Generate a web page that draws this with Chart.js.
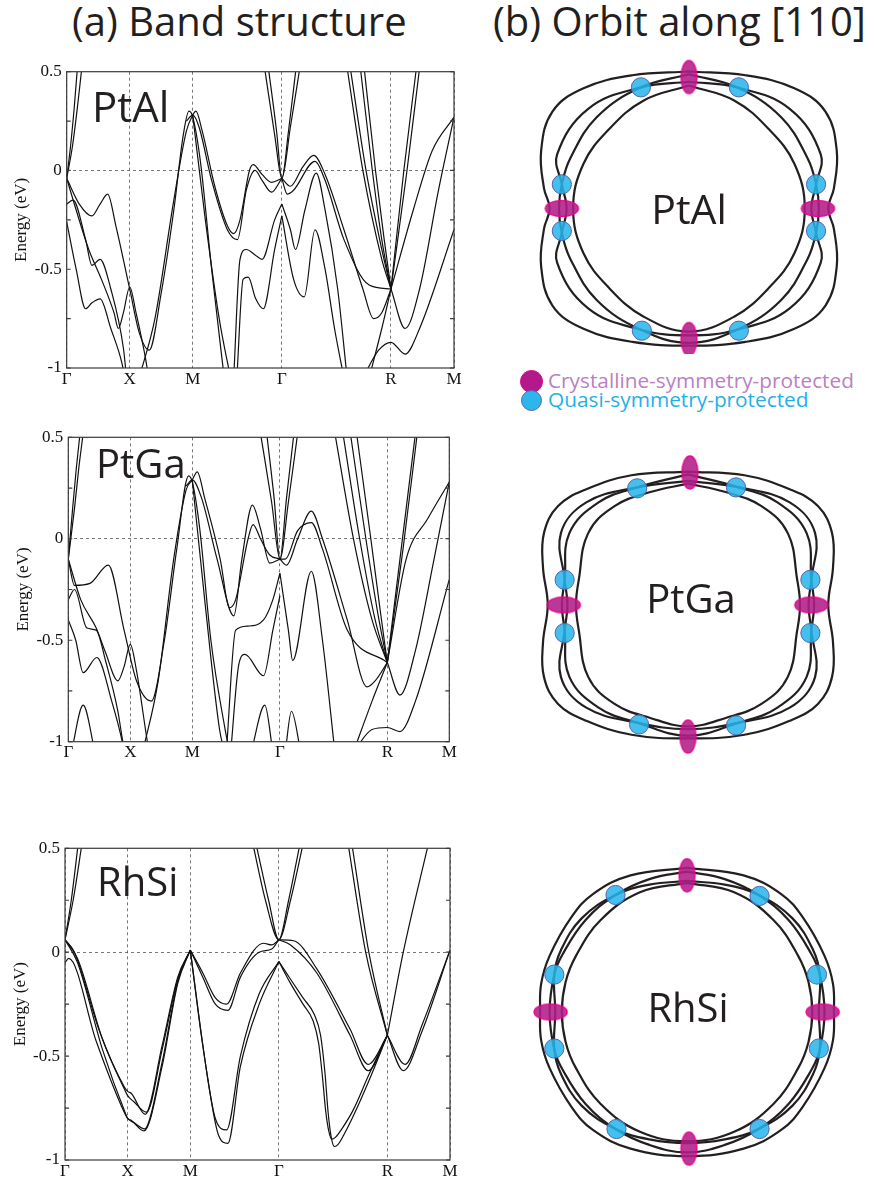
<!DOCTYPE html>
<html>
<head>
<meta charset="utf-8">
<script src="https://cdn.jsdelivr.net/npm/chart.js@4.4.1/dist/chart.umd.min.js"></script>
<style>
  html,body{margin:0;padding:0;background:#fff;}
  body{width:876px;height:1184px;position:relative;overflow:hidden;font-family:'Open Sans',sans-serif;color:#231f20;}
  canvas{position:absolute;}
  .t{position:absolute;white-space:nowrap;line-height:1;}
  .title{font-size:40px;}
  .lbl{font-size:42px;}
  .olbl{font-size:41px;text-align:center;width:200px;}
  .leg{font-size:20.8px;}
  .dot{position:absolute;border-radius:50%;box-sizing:border-box;}
</style>
</head>
<body>
<div class="t title" style="left:72px;top:1px;">(a) Band structure</div>
<div class="t title" style="left:493px;top:1px;">(b) Orbit along [110]</div>

<canvas id="bandPtAl" width="470" height="340" style="left:0;top:50px;"></canvas>
<canvas id="bandPtGa" width="470" height="345" style="left:0;top:420px;"></canvas>
<canvas id="bandRhSi" width="470" height="354" style="left:0;top:830px;"></canvas>

<canvas id="orbPtAl" width="376" height="325" style="left:500px;top:40px;"></canvas>
<canvas id="orbPtGa" width="376" height="330" style="left:500px;top:440px;"></canvas>
<canvas id="orbRhSi" width="376" height="344" style="left:500px;top:840px;"></canvas>

<div class="t lbl" style="left:92px;top:85px;">PtAl</div>
<div class="t lbl" style="left:96px;top:443px;font-size:40px;">PtGa</div>
<div class="t lbl" style="left:97px;top:861px;font-size:40px;">RhSi</div>

<div class="t olbl" style="left:589px;top:188px;">PtAl</div>
<div class="t olbl" style="left:591px;top:578px;font-size:40px;">PtGa</div>
<div class="t olbl" style="left:588px;top:987px;font-size:40px;">RhSi</div>

<div class="dot" style="left:520px;top:370px;width:23px;height:23px;background:#b4198c;border:1.5px solid #e6007e;"></div>
<div class="dot" style="left:521px;top:389.5px;width:21px;height:21px;background:#2db6ec;border:1.2px solid #5567b0;"></div>
<div class="t leg" style="left:548px;top:370px;color:#bb80c1;">Crystalline-symmetry-protected</div>
<div class="t leg" style="left:548px;top:389px;color:#1fb0e8;">Quasi-symmetry-protected</div>

<script>
// ---------------- k-path and energy axis ----------------
const kTicks  = [0, 1, 2, 3.414, 5.146, 6.146];
const kLabels = ['Γ', 'X', 'M', 'Γ', 'R', 'M'];
const eTicks  = [-1, -0.75, -0.5, -0.25, 0, 0.25, 0.5];
const eLabels = [-1, -0.5, 0, 0.5];

// ---------------- PtAl bands: [k, E(eV)] ----------------
const ptalBands = [
  [[0,-0.04],[0.06,0.12],[0.12,0.32],[0.17,0.52]],
  [[0,-0.04],[0.09,0.12],[0.17,0.32],[0.24,0.52]],
  [[0,-0.04],[0.2,-0.17],[0.40,-0.23],[0.53,-0.17],[0.65,-0.12],[0.78,-0.28],[1.0,-0.6],[1.15,-0.82],[1.31,-0.91],[1.5,-0.62],[1.7,-0.2],[1.85,0.18],[1.94,0.30],[2.0,0.27],[2.12,0.05],[2.3,-0.5],[2.5,-1.05]],
  [[0,-0.04],[0.15,-0.2],[0.35,-0.4],[0.55,-0.55],[0.75,-0.72],[0.82,-0.80],[0.9,-0.72],[1.0,-0.59],[1.1,-0.72],[1.25,-0.95],[1.3,-1.05]],
  [[0,-0.17],[0.1,-0.15],[0.3,-0.35],[0.4,-0.48],[0.53,-0.45],[0.7,-0.6],[0.9,-0.9],[0.95,-1.05]],
  [[0,-0.26],[0.15,-0.5],[0.3,-0.70],[0.4,-0.67],[0.53,-0.65],[0.7,-0.8],[0.88,-0.98],[0.92,-1.05]],
  [[1.15,-1.05],[1.4,-0.75],[1.7,-0.15],[1.9,0.2],[2.0,0.28],[2.05,0.30],[2.15,0.2],[2.35,-0.08],[2.55,-0.28],[2.65,-0.32],[2.75,-0.25],[2.9,0.0],[2.96,0.03],[3.1,-0.02],[3.25,-0.06],[3.414,-0.04]],
  [[1.9,0.25],[2.0,0.28],[2.1,0.22],[2.3,-0.05],[2.55,-0.3],[2.71,-0.35],[2.85,-0.1],[2.99,0.0],[3.1,-0.05],[3.25,-0.11],[3.414,-0.04]],
  [[2.0,0.28],[2.2,-0.25],[2.42,-0.75],[2.6,-1.05]],
  [[2.65,-1.05],[2.75,-0.45],[2.85,-0.40],[3.0,-0.43],[3.1,-0.45],[3.3,-0.25],[3.414,-0.17]],
  [[2.7,-1.05],[2.8,-0.55],[2.88,-0.54],[3.0,-0.65],[3.12,-0.70],[3.3,-0.4],[3.414,-0.23]],
  [[3.14,0.52],[3.30,0.18],[3.414,-0.04],[3.55,0.22],[3.70,0.52]],
  [[3.2,0.52],[3.33,0.2],[3.414,-0.04],[3.52,0.2],[3.64,0.52]],
  [[3.414,-0.04],[3.55,-0.08],[3.75,0.02],[3.92,0.076],[4.1,-0.02],[4.4,-0.3],[4.7,-0.6],[4.87,-0.75],[5.0,-0.72],[5.146,-0.6]],
  [[3.414,-0.04],[3.5,-0.12],[3.6,-0.1],[3.94,0.046],[4.1,-0.05],[4.4,-0.35],[4.8,-0.58],[5.146,-0.6]],
  [[3.414,-0.17],[3.55,-0.3],[3.63,-0.40],[3.78,-0.2],[3.96,-0.013],[4.1,-0.2],[4.3,-0.6],[4.45,-1.05]],
  [[3.414,-0.23],[3.6,-0.55],[3.77,-0.64],[3.94,-0.30],[4.1,-0.5],[4.25,-0.8],[4.4,-1.05]],
  [[4.45,0.52],[4.7,0.0],[5.0,-0.45],[5.146,-0.6]],
  [[4.5,0.52],[4.75,0.0],[5.0,-0.4],[5.146,-0.6]],
  [[4.66,0.52],[4.85,0.0],[5.0,-0.35],[5.146,-0.6]],
  [[4.72,0.52],[4.9,0.0],[5.03,-0.33],[5.146,-0.6]],
  [[5.146,-0.6],[5.35,0.0],[5.55,0.52]],
  [[5.146,-0.6],[5.4,0.0],[5.6,0.52]],
  [[5.146,-0.6],[5.5,-0.2],[5.8,0.1],[6.146,0.27]],
  [[5.146,-0.6],[5.37,-0.80],[5.6,-0.6],[5.9,-0.1],[6.146,0.27]],
  [[4.7,-1.05],[4.95,-0.91],[5.146,-0.87],[5.37,-0.93],[5.6,-0.8],[6.146,-0.3]],
  [[4.8,-1.05],[5.0,-0.8],[5.146,-0.6]]
];

// ---------------- PtGa bands ----------------
const ptgaBands = [
  [[0,-0.1],[0.07,0.15],[0.13,0.35],[0.19,0.52]],
  [[0,-0.1],[0.1,0.15],[0.17,0.35],[0.24,0.52]],
  [[0,-0.1],[0.1,-0.23],[0.35,-0.22],[0.645,-0.13],[0.9,-0.45],[1.1,-0.7],[1.34,-0.80],[1.55,-0.5],[1.75,-0.05],[1.94,0.31],[2.0,0.28],[2.12,0.05],[2.3,-0.5],[2.53,-0.94],[2.6,-1.05]],
  [[0,-0.1],[0.2,-0.3],[0.45,-0.44],[0.6,-0.56],[0.8,-0.70],[0.9,-0.63],[1.0,-0.52],[1.1,-0.65],[1.25,-0.95],[1.3,-1.05]],
  [[0,-0.3],[0.1,-0.25],[0.3,-0.44],[0.45,-0.45],[0.6,-0.6],[0.8,-0.85],[0.88,-1.0],[0.92,-1.05]],
  [[0,-0.4],[0.12,-0.5],[0.24,-0.66],[0.46,-0.585],[0.7,-0.8],[0.87,-1.0],[0.9,-1.05]],
  [[0.05,-1.05],[0.24,-0.82],[0.43,-1.05]],
  [[1.2,-1.05],[1.45,-0.7],[1.7,-0.1],[1.9,0.24],[2.0,0.29],[2.08,0.33],[2.2,0.2],[2.45,-0.1],[2.6,-0.34],[2.7,-0.3],[2.9,0.0],[2.98,0.07],[3.1,0.0],[3.25,-0.08],[3.414,-0.1]],
  [[1.9,0.26],[2.0,0.29],[2.15,0.2],[2.4,-0.1],[2.67,-0.38],[2.8,-0.1],[2.97,0.166],[3.1,0.05],[3.25,-0.12],[3.414,-0.1]],
  [[2.0,0.29],[2.2,-0.3],[2.44,-0.94],[2.52,-1.05]],
  [[2.55,-1.05],[2.7,-0.45],[2.9,-0.43],[3.15,-0.4],[3.3,-0.3],[3.414,-0.17]],
  [[2.62,-1.05],[2.75,-0.62],[2.85,-0.57],[3.15,-0.675],[3.3,-0.45],[3.414,-0.28]],
  [[2.95,-1.05],[3.17,-0.82],[3.3,-1.05]],
  [[3.5,-1.05],[3.6,-0.85],[3.75,-1.05]],
  [[3.1,0.52],[3.28,0.18],[3.414,-0.1],[3.55,0.18],[3.7,0.52]],
  [[3.2,0.52],[3.32,0.2],[3.414,-0.1],[3.52,0.2],[3.64,0.52]],
  [[3.414,-0.1],[3.52,-0.13],[3.7,0.0],[3.92,0.136],[4.1,0.0],[4.5,-0.4],[4.82,-0.73],[4.95,-0.7],[5.146,-0.61]],
  [[3.414,-0.1],[3.5,-0.1],[3.7,0.04],[3.92,0.08],[4.1,-0.05],[4.5,-0.45],[5.146,-0.61]],
  [[3.414,-0.17],[3.55,-0.45],[3.62,-0.6],[3.92,-0.16],[4.1,-0.5],[4.3,-1.05]],
  [[4.3,0.52],[4.6,0.0],[4.9,-0.4],[5.146,-0.61]],
  [[4.43,0.52],[4.7,0.0],[4.95,-0.4],[5.146,-0.61]],
  [[4.55,0.52],[4.8,0.0],[5.0,-0.38],[5.146,-0.61]],
  [[4.65,0.52],[4.88,0.0],[5.03,-0.35],[5.146,-0.61]],
  [[5.146,-0.61],[5.35,-0.1],[5.6,0.52]],
  [[5.146,-0.61],[5.4,-0.05],[5.63,0.52]],
  [[5.146,-0.61],[5.45,-0.1],[5.8,0.1],[6.146,0.28]],
  [[5.146,-0.61],[5.35,-0.77],[5.6,-0.55],[5.9,-0.1],[6.146,0.28]],
  [[4.6,-1.05],[4.9,-0.94],[5.146,-0.93],[5.35,-0.95],[5.6,-0.8],[6.146,-0.2]],
  [[4.6,-1.05],[4.9,-0.8],[5.146,-0.61]]
];

// ---------------- RhSi bands ----------------
const rhsiBands = [
  [[0,0.06],[0.1,0.25],[0.21,0.52]],
  [[0,0.06],[0.13,0.25],[0.27,0.52]],
  [[0,0.06],[0.15,0.0],[0.55,-0.38],[0.95,-0.65],[1.0,-0.67],[1.06,-0.68],[1.28,-0.78],[1.55,-0.45],[1.8,-0.12],[2.0,0.01]],
  [[0,0.06],[0.2,-0.03],[0.6,-0.42],[0.95,-0.66],[1.0,-0.69],[1.1,-0.72],[1.3,-0.77],[1.55,-0.47],[1.8,-0.13],[2.0,0.01]],
  [[0,0.06],[0.2,-0.05],[0.6,-0.47],[0.97,-0.78],[1.0,-0.80],[1.06,-0.81],[1.26,-0.86],[1.55,-0.55],[1.8,-0.15],[2.0,0.01]],
  [[0,-0.05],[0.06,-0.03],[0.5,-0.43],[0.9,-0.74],[1.0,-0.80],[1.1,-0.82],[1.27,-0.85],[1.55,-0.53],[1.8,-0.14],[2.0,0.01]],
  [[2.0,0.01],[2.2,-0.1],[2.4,-0.22],[2.58,-0.25],[2.8,-0.1],[3.17,0.043],[3.3,0.035],[3.414,0.06]],
  [[2.0,0.01],[2.2,-0.12],[2.4,-0.25],[2.6,-0.28],[2.8,-0.12],[3.1,0.0],[3.3,0.015],[3.414,0.06]],
  [[2.0,0.01],[2.2,-0.45],[2.4,-0.8],[2.58,-0.855],[2.8,-0.5],[3.1,-0.2],[3.414,-0.045]],
  [[2.0,0.01],[2.25,-0.55],[2.45,-0.88],[2.6,-0.92],[2.8,-0.55],[3.1,-0.25],[3.414,-0.045]],
  [[3.0,0.52],[3.2,0.25],[3.414,0.06],[3.6,0.25],[3.8,0.52]],
  [[3.05,0.52],[3.25,0.25],[3.414,0.06],[3.57,0.25],[3.75,0.52]],
  [[3.414,0.06],[3.65,0.055],[4.02,-0.08],[4.55,-0.37],[4.84,-0.54],[5.146,-0.40]],
  [[3.414,0.06],[3.6,0.035],[4.02,-0.1],[4.55,-0.4],[4.84,-0.57],[5.146,-0.40]],
  [[3.414,-0.045],[3.6,-0.13],[3.8,-0.22],[3.98,-0.3],[4.08,-0.4],[4.15,-0.58],[4.2,-0.77],[4.25,-0.89],[4.3,-0.935],[4.36,-0.925],[4.45,-0.88],[4.6,-0.79],[4.85,-0.62],[5.146,-0.40]],
  [[3.414,-0.045],[3.6,-0.15],[3.8,-0.25],[3.96,-0.33],[4.05,-0.44],[4.11,-0.6],[4.16,-0.76],[4.21,-0.86],[4.26,-0.9],[4.32,-0.89],[4.42,-0.85],[4.6,-0.76],[4.85,-0.59],[5.146,-0.40]],
  [[4.52,0.52],[4.8,0.0],[5.146,-0.40]],
  [[4.58,0.52],[4.85,0.0],[5.146,-0.40]],
  [[5.146,-0.4],[5.4,0.0],[5.8,0.52]],
  [[5.146,-0.40],[5.43,-0.54],[5.7,-0.35],[6.146,0.01]],
  [[5.146,-0.40],[5.40,-0.57],[5.7,-0.38],[6.146,0.01]]
];

// ---------------- Orbits: upper-left quadrant of each curve, from top to left (px offsets, y up) ----------------
const ptalCurves = [
  [[0,147],[-60,143],[-112,129],[-145,104],[-157,62],[-154,22],[-148,0]],
  [[0,144],[-51,130],[-98,98],[-126,54],[-135,26],[-138,0]],
  [[0,136],[-51,130],[-107,107],[-140,58],[-135,26],[-130,0]],
  [[0,132],[-48,116],[-85,85],[-112,48],[-123,0]]
];
const ptalCrystalline = [[0,141,0],[0,-140,0],[-135,0,90],[137,0,90]];
const ptalQuasi = [[-51,130],[53,130],[-135,26],[-135,-24],[135,26],[135,-24],[-50,-131],[53,-131]];

const ptgaCurves = [
  [[0,143],[-60,139],[-108,124],[-138,106],[-153,77],[-154,40],[-149,0]],
  [[0,140],[-54,126],[-95,110],[-126,77],[-131,27],[-134,0]],
  [[0,133],[-54,126],[-108,110],[-135,77],[-131,27],[-128,0]],
  [[0,130],[-40,121],[-78,106],[-106,77],[-116,27],[-119,0]]
];
const ptgaCrystalline = [[2,142,0],[0,-141,0],[-132,0,90],[131,0,90]];
const ptgaQuasi = [[-54,125],[51,126],[-131,27],[-131,-30],[130,27],[130,-30],[-52,-128],[51,-129]];

const rhsiCurves = [
  [[0,154],[-60,146],[-100,126],[-123,101],[-146,60],[-155,30],[-156,0]],
  [[0,150],[-40,142],[-76,125],[-108,98],[-132,62],[-141,40],[-146,0]],
  [[0,140],[-40,136],[-76,125],[-112,100],[-134,66],[-141,40],[-140,0]],
  [[0,138],[-50,128],[-92,98],[-118,60],[-129,32],[-133,0]]
];
const rhsiCrystalline = [[0,146,0],[2,-146,0],[-145,0,90],[144,0,90]];
const rhsiQuasi = [[-76,125],[77,124],[-141,40],[-141,-39],[138,40],[140,-39],[-75,-125],[77,-125]];

// ---------------- helpers ----------------
const framePlugin = {
  id: 'frame',
  afterDraw(chart) {
    const {ctx, chartArea: a, scales: {y}} = chart;
    ctx.save();
    ctx.strokeStyle = '#3a3a3a';
    ctx.lineWidth = 1.2;
    ctx.strokeRect(a.left, a.top, a.right - a.left, a.bottom - a.top);
    ctx.beginPath();
    eTicks.forEach(v => {
      const py = y.getPixelForValue(v);
      ctx.moveTo(a.left, py); ctx.lineTo(a.left + 4, py);
      ctx.moveTo(a.right, py); ctx.lineTo(a.right - 4, py);
    });
    ctx.stroke();
    ctx.restore();
  }
};

function bandChart(id, bands, f) {
  new Chart(document.getElementById(id), {
    type: 'scatter',
    data: {
      datasets: bands.map(b => ({
        data: b.map(p => ({x: p[0], y: p[1]})),
        showLine: true, borderColor: '#111', borderWidth: 1.2,
        pointRadius: 0, cubicInterpolationMode: 'monotone', fill: false
      }))
    },
    options: {
      responsive: false, animation: false, devicePixelRatio: 1, events: [],
      layout: {padding: {top: f.padTop, right: f.padRight, left: 0, bottom: 0}},
      plugins: {legend: {display: false}, tooltip: {enabled: false}},
      scales: {
        x: {
          type: 'linear', min: 0, max: 6.146,
          afterBuildTicks: s => { s.ticks = kTicks.map(v => ({value: v})); },
          afterFit: s => { s.height = f.xh; },
          ticks: {callback: (v, i) => kLabels[i], autoSkip: false, maxRotation: 0, padding: 1,
                  color: '#111', font: {family: 'Liberation Serif', size: 17}},
          grid: {drawTicks: false, color: '#555', lineWidth: 0.8},
          border: {display: false, dash: [3, 3]}
        },
        y: {
          type: 'linear', min: -1, max: 0.5,
          afterBuildTicks: s => { s.ticks = eTicks.map(v => ({value: v})); },
          afterFit: s => { s.width = f.yw; },
          ticks: {callback: v => (eLabels.includes(v) ? String(v) : ''), autoSkip: false, padding: 5,
                  color: '#111', font: {family: 'Liberation Serif', size: 17}},
          grid: {drawTicks: false, lineWidth: 0.8,
                 color: c => (c.tick && Math.abs(c.tick.value) < 1e-9 ? '#555' : 'rgba(0,0,0,0)')},
          border: {display: false, dash: [3, 3]},
          title: {display: true, text: 'Energy (eV)', color: '#111',
                  font: {family: 'Liberation Serif', size: 17}, padding: {top: f.titlePad, bottom: 0}}
        }
      }
    },
    plugins: [framePlugin]
  });
}

function makeEllipse() {
  const c = document.createElement('canvas');
  c.width = 19; c.height = 37;
  const g = c.getContext('2d');
  g.beginPath();
  g.ellipse(9.5, 18.5, 8, 16.5, 0, 0, Math.PI * 2);
  g.fillStyle = 'rgba(176,30,136,0.88)';
  g.fill();
  g.lineWidth = 1.3;
  g.strokeStyle = '#ec008c';
  g.stroke();
  return c;
}
const ellipseImg = makeEllipse();

function loop(q) {
  const A = q;
  const B = q.slice().reverse().map(([x, y]) => [x, -y]).slice(1);
  const C = q.map(([x, y]) => [-x, -y]).slice(1);
  const D = q.slice().reverse().map(([x, y]) => [-x, y]).slice(1);
  return [...A, ...B, ...C, ...D].map(([x, y]) => ({x, y}));
}

function orbitChart(id, curves, crys, quasi, b) {
  new Chart(document.getElementById(id), {
    type: 'scatter',
    data: {
      datasets: [
        {data: quasi.map(([x, y]) => ({x, y})), pointStyle: 'circle', pointRadius: 9.6,
         backgroundColor: 'rgba(38,180,235,0.86)', borderColor: '#5264ae', borderWidth: 1, order: 0},
        {data: crys.map(([x, y, r]) => ({x, y, r})), pointStyle: ellipseImg, pointRadius: 10,
         pointRotation: c => (c.raw ? c.raw.r : 0), order: 1},
        ...curves.map(q => ({data: loop(q), showLine: true, tension: 0.4, borderColor: '#231f20',
                            borderWidth: 2.2, pointRadius: 0, order: 2}))
      ]
    },
    options: {
      responsive: false, animation: false, devicePixelRatio: 1, events: [],
      layout: {padding: 0},
      plugins: {legend: {display: false}, tooltip: {enabled: false}},
      scales: {
        x: {type: 'linear', display: false, min: b.xmin, max: b.xmax},
        y: {type: 'linear', display: false, min: b.ymin, max: b.ymax}
      }
    }
  });
}

bandChart('bandPtAl', ptalBands, {padTop: 21.7, padRight: 16, xh: 22, yw: 66.7, titlePad: 11.5});
bandChart('bandPtGa', ptgaBands, {padTop: 17.3, padRight: 20.7, xh: 23.3, yw: 68.3, titlePad: 13});
bandChart('bandRhSi', rhsiBands, {padTop: 18.3, padRight: 20, xh: 24, yw: 65, titlePad: 10});

orbitChart('orbPtAl', ptalCurves, ptalCrystalline, ptalQuasi, {xmin: -189, xmax: 187, ymin: -156, ymax: 169});
orbitChart('orbPtGa', ptgaCurves, ptgaCrystalline, ptgaQuasi, {xmin: -188, xmax: 188, ymin: -165, ymax: 165});
orbitChart('orbRhSi', rhsiCurves, rhsiCrystalline, rhsiQuasi, {xmin: -187, xmax: 189, ymin: -172, ymax: 172});
</script>
</body>
</html>
